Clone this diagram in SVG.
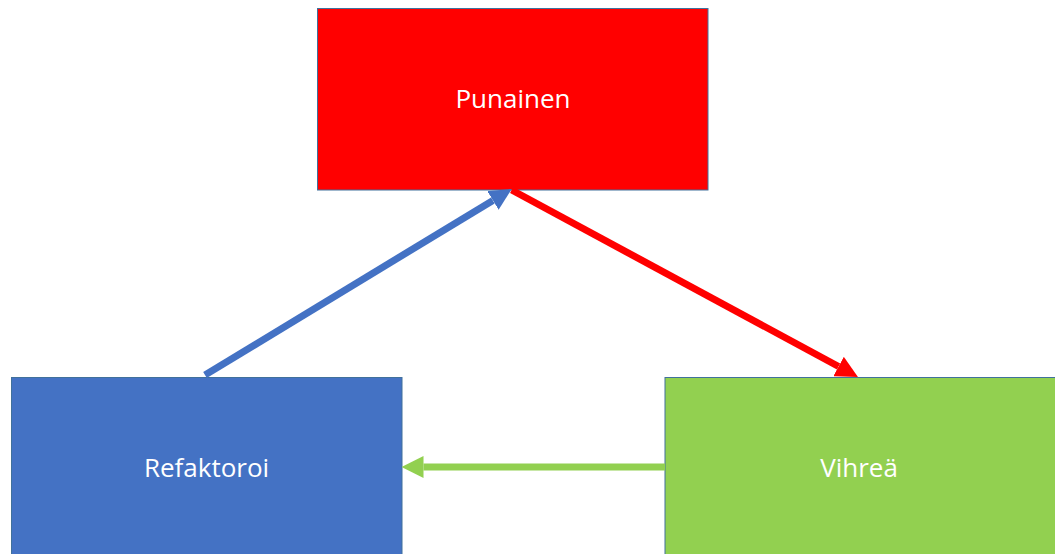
<svg xmlns="http://www.w3.org/2000/svg" width="1055" height="554" viewBox="0 0 1055 554">
  <style>
    .box { stroke: #41719C; stroke-width: 1; }
    .lbl { font-family: "Open Sans", "Liberation Sans", sans-serif; font-size: 26px; fill: #FFFFFF; text-anchor: middle; }
    .conn { fill: none; stroke-width: 7; stroke-linecap: butt; }
  </style>
  <defs>
    <marker id="hBlue" viewBox="0 0 22 22" refX="0" refY="11" markerWidth="22" markerHeight="22" markerUnits="userSpaceOnUse" orient="auto">
      <path d="M0,0 L22,11 L0,22 z" fill="#4472C4"/>
    </marker>
    <marker id="hRed" viewBox="0 0 22 22" refX="0" refY="11" markerWidth="22" markerHeight="22" markerUnits="userSpaceOnUse" orient="auto">
      <path d="M0,0 L22,11 L0,22 z" fill="#FF0000"/>
    </marker>
    <marker id="hGreen" viewBox="0 0 22 22" refX="0" refY="11" markerWidth="22" markerHeight="22" markerUnits="userSpaceOnUse" orient="auto">
      <path d="M0,0 L22,11 L0,22 z" fill="#92D050"/>
    </marker>
  </defs>
  <rect width="1055" height="554" fill="#FFFFFF"/>
  <g id="punainen">
    <rect class="box" x="317.5" y="8.5" width="390.5" height="181.5" fill="#FF0000"/>
    <text class="lbl" x="513" y="108">Punainen</text>
  </g>
  <g id="refaktoroi">
    <rect class="box" x="11.5" y="377.5" width="390.5" height="190" fill="#4472C4"/>
    <text class="lbl" x="206.5" y="477">Refaktoroi</text>
  </g>
  <g id="vihrea">
    <rect class="box" x="665" y="377.5" width="390.5" height="190" fill="#92D050"/>
    <text class="lbl" x="859" y="477">Vihreä</text>
  </g>
  <g id="connectors">
    <line class="conn" x1="205" y1="375" x2="492.9" y2="200.4" stroke="#4472C4" marker-end="url(#hBlue)"/>
    <line class="conn" x1="511.7" y1="190" x2="838.6" y2="366.5" stroke="#FF0000" marker-end="url(#hRed)"/>
    <line class="conn" x1="665" y1="467" x2="423.5" y2="467" stroke="#92D050" marker-end="url(#hGreen)"/>
  </g>
</svg>
